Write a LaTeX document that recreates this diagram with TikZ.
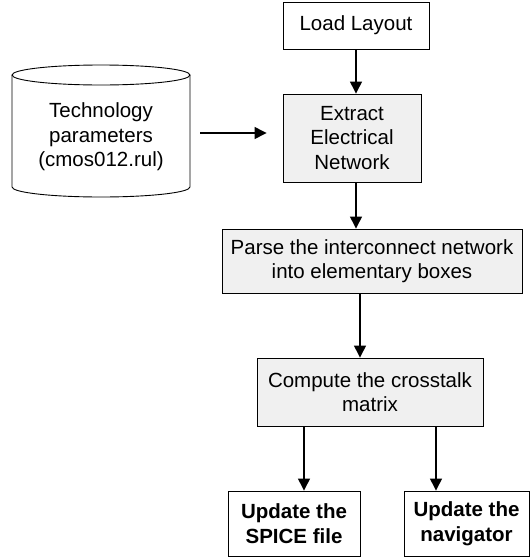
\documentclass[tikz,border=0pt]{standalone}
\usepackage{fontspec}
\setmainfont{Liberation Sans}
\usetikzlibrary{arrows.meta}
\definecolor{boxgray}{RGB}{240,240,240}

\begin{document}
\begin{tikzpicture}[x=1pt, y=-1pt]
\tikzset{every node/.style={font=\fontsize{20.5}{24.5}\selectfont, align=center, inner sep=0pt}}
\tikzset{stepbox/.style={draw, line width=0.9pt, rectangle}}
\tikzset{grayfill/.style={stepbox, fill=boxgray}}
\tikzset{arr/.style={line width=1.3pt, -{Triangle[length=12pt, width=12pt]}}}
\useasboundingbox (0,0) rectangle (530,557);
\draw[line width=0.9pt] (12,75) -- (12,187)
  arc[start angle=180, end angle=360, x radius=89pt, y radius=10pt] -- (190,75);
\draw[line width=0.9pt] (101,75) ellipse [x radius=89pt, y radius=10pt];
\node (tech) at (101,137) {Technology\\parameters\\(cmos012.rul)};
\node[stepbox, minimum width=146pt, minimum height=47pt] (load) at (356,25.5) {Load Layout};
\node[grayfill, minimum width=138pt, minimum height=88pt] (extract) at (352,138) {Extract\\Electrical\\Network};
\node[grayfill, minimum width=300pt, minimum height=64pt] (parse) at (372,261) {Parse the interconnect network\\into elementary boxes};
\node[grayfill, minimum width=226pt, minimum height=68pt] (compute) at (370,392) {Compute the crosstalk\\matrix};
\node[stepbox, minimum width=132pt, minimum height=65pt, font=\fontsize{20.5}{24.5}\selectfont\bfseries] (spice) at (294,523.5) {Update the\\SPICE file};
\node[stepbox, minimum width=125pt, minimum height=65pt, font=\fontsize{20.5}{24.5}\selectfont\bfseries] (navig) at (466.5,523.5) {Update the\\navigator};
\coordinate (techout) at (200,133);
\draw[arr] (techout) -- ([xshift=-16pt]techout -| extract.west);
\draw[arr] (load.south) -- (load.south |- extract.north);
\draw[arr] (load.south |- extract.south) -- (load.south |- parse.north);
\draw[arr] ([xshift=-12pt]parse.south) -- ([xshift=-12pt]parse.south |- compute.north);
\draw[arr] ([xshift=-66pt]compute.south) -- ([xshift=-66pt]compute.south |- spice.north);
\draw[arr] ([xshift=66pt]compute.south) -- ([xshift=66pt]compute.south |- navig.north);
\end{tikzpicture}
\end{document}
